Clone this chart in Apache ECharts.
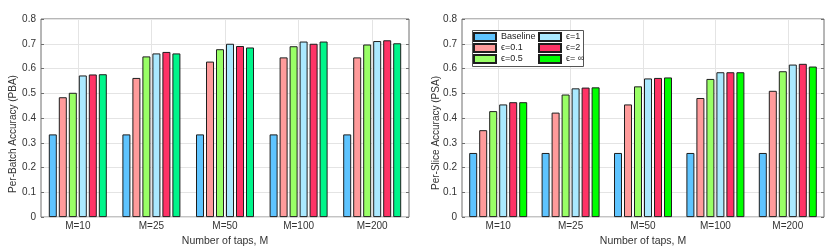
<!DOCTYPE html>
<html>
<head>
<meta charset="utf-8">
<script src="https://cdn.jsdelivr.net/npm/echarts@6/dist/echarts.min.js"></script>
<style>html,body{margin:0;padding:0;background:#fff}#c{width:830px;height:252px}</style>
</head>
<body>
<div id="c"></div>
<script>
var categories = ['M=10', 'M=25', 'M=50', 'M=100', 'M=200'];
var seriesNames = ['Baseline', '\u03f5=0.1', '\u03f5=0.5', '\u03f5=1', '\u03f5=2', '\u03f5= \u221e'];
var yTicks = [0, 0.1, 0.2, 0.3, 0.4, 0.5, 0.6, 0.7, 0.8];

// Per-Batch Accuracy (left)
var pbaBaseline = [0.334, 0.334, 0.334, 0.334, 0.334];
var pbaEps01    = [0.484, 0.562, 0.628, 0.645, 0.645];
var pbaEps05    = [0.502, 0.649, 0.678, 0.690, 0.697];
var pbaEps1     = [0.572, 0.661, 0.700, 0.709, 0.711];
var pbaEps2     = [0.576, 0.667, 0.691, 0.700, 0.714];
var pbaEpsInf   = [0.577, 0.661, 0.685, 0.709, 0.702];

// Per-Slice Accuracy (right)
var psaBaseline = [0.259, 0.259, 0.259, 0.259, 0.259];
var psaEps01    = [0.351, 0.422, 0.455, 0.481, 0.510];
var psaEps05    = [0.428, 0.495, 0.528, 0.558, 0.589];
var psaEps1     = [0.455, 0.520, 0.560, 0.585, 0.616];
var psaEps2     = [0.464, 0.523, 0.562, 0.585, 0.619];
var psaEpsInf   = [0.464, 0.524, 0.564, 0.585, 0.608];

var leftColors  = ['#5ec4ff', '#ff9b9b', '#99ff66', '#aae9ff', '#ff3366', '#00f58a'];
var rightColors = ['#5ec4ff', '#ff9b9b', '#99ff66', '#aae9ff', '#ff3366', '#00ff00'];

var pbaData = [pbaBaseline, pbaEps01, pbaEps05, pbaEps1, pbaEps2, pbaEpsInf];
var psaData = [psaBaseline, psaEps01, psaEps05, psaEps1, psaEps2, psaEpsInf];

// helper positions for vertical grid lines at category centres
var halfSteps = [];
for (var i = 0; i <= categories.length * 2; i++) halfSteps.push(String(i));

var FONT = 'Liberation Sans, Arial, Helvetica, sans-serif';
var TXT = '#333';
var BOX = '#6e6e6e';
var GRIDC = '#e4e4e4';

function mkX(gridIndex) {
  return {
    type: 'category', gridIndex: gridIndex, data: categories,
    axisLine: { show: false }, axisTick: { show: false },
    axisLabel: { color: TXT, fontSize: 10, fontFamily: FONT, margin: 4 },
    splitLine: { show: false },
    name: 'Number of taps, M', nameLocation: 'middle', nameGap: 17,
    nameTextStyle: { color: TXT, fontSize: 10.5, fontFamily: FONT }
  };
}
function mkHelperX(gridIndex) {
  return {
    type: 'category', gridIndex: gridIndex, data: halfSteps, boundaryGap: false,
    position: 'top', axisLine: { show: false }, axisTick: { show: false },
    axisLabel: { show: false },
    splitLine: { show: true, interval: function (idx) { return idx % 2 === 1; },
      lineStyle: { color: GRIDC, width: 1 } }
  };
}
function mkY(gridIndex, right) {
  return {
    type: 'value', gridIndex: gridIndex, min: 0, max: 0.8, interval: 0.1,
    position: right ? 'right' : 'left',
    axisLine: { show: false },
    axisTick: { show: true, inside: true, length: 3, lineStyle: { color: BOX } },
    axisLabel: right ? { show: false } : {
      color: TXT, fontSize: 10, fontFamily: FONT, margin: 5,
      formatter: function (v) { return v === 0 ? '0' : v.toFixed(1); }
    },
    splitLine: right ? { show: false } : { show: true, lineStyle: { color: GRIDC, width: 1 } }
  };
}

var series = [];
function addSeries(dataSets, colors, xi, yi) {
  for (var k = 0; k < dataSets.length; k++) {
    series.push({
      type: 'bar', name: seriesNames[k], xAxisIndex: xi, yAxisIndex: yi,
      data: dataSets[k], barWidth: 8, barGap: '25%',
      itemStyle: { color: colors[k], borderColor: '#1e1e1e', borderWidth: 1 },
      emphasis: { disabled: true }, z: 3
    });
  }
}
// right chart series first so legend takes its colours
addSeries(psaData, rightColors, 1, 2);
addSeries(pbaData, leftColors, 0, 0);

var legendText = { color: '#222', fontSize: 9, fontFamily: FONT, lineHeight: 10 };

var chart = echarts.init(document.getElementById('c'), null, { renderer: 'canvas' });
chart.setOption({
  animation: false,
  backgroundColor: '#fff',
  grid: [
    { left: 41, top: 19, width: 368, height: 203, show: true, borderColor: BOX, borderWidth: 1, backgroundColor: 'transparent' },
    { left: 462, top: 19, width: 362, height: 203, show: true, borderColor: BOX, borderWidth: 1, backgroundColor: 'transparent' }
  ],
  xAxis: [mkX(0), mkX(1), mkHelperX(0), mkHelperX(1)],
  yAxis: [mkY(0, false), mkY(0, true), mkY(1, false), mkY(1, true)],
  legend: [
    { orient: 'vertical', left: 473, top: 32, padding: 0, itemWidth: 22, itemHeight: 8, itemGap: 1,
      icon: 'rect', selectedMode: false, z: 6,
      data: [seriesNames[0], seriesNames[1], seriesNames[2]],
      textStyle: legendText },
    { orient: 'vertical', left: 538, top: 32, padding: 0, itemWidth: 22, itemHeight: 8, itemGap: 1,
      icon: 'rect', selectedMode: false, z: 6,
      data: [seriesNames[3], seriesNames[4], seriesNames[5]],
      textStyle: legendText }
  ],
  graphic: [
    { type: 'rect', z: 5, shape: { x: 472.5, y: 30.5, width: 111, height: 36 },
      style: { fill: '#fff', stroke: '#555', lineWidth: 1 } },
    { type: 'text', x: 13, y: 134, rotation: Math.PI / 2, z: 5,
      style: { text: 'Per-Batch Accuracy (PBA)', fill: TXT, font: '10px ' + FONT, align: 'center', verticalAlign: 'middle' } },
    { type: 'text', x: 436, y: 133, rotation: Math.PI / 2, z: 5,
      style: { text: 'Per-Slice Accuracy (PSA)', fill: TXT, font: '10px ' + FONT, align: 'center', verticalAlign: 'middle' } }
  ],
  series: series
});
</script>
</body>
</html>
